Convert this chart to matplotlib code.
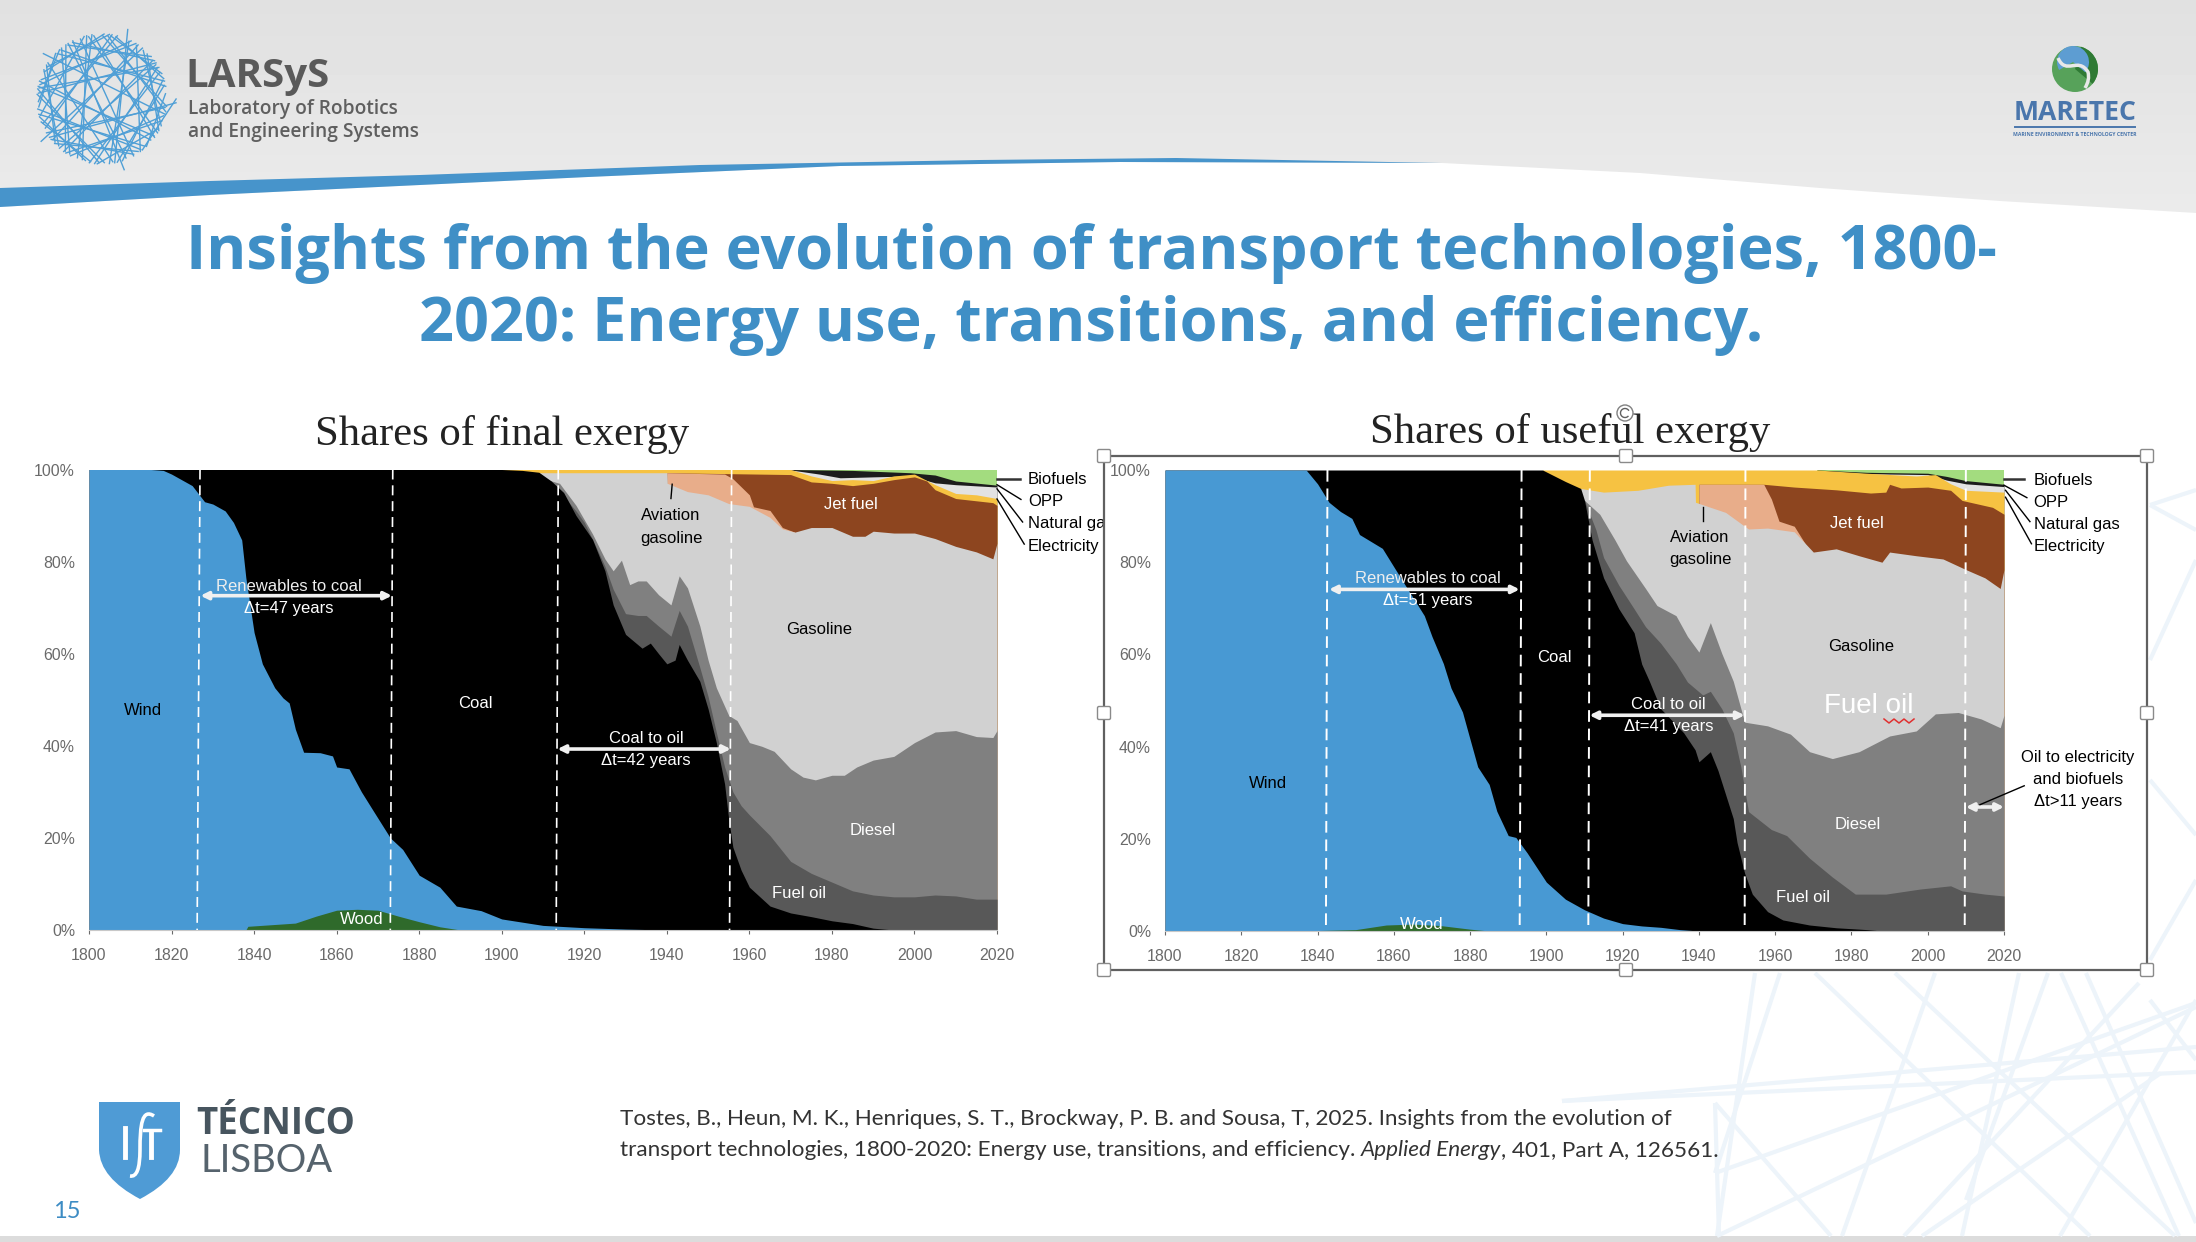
import numpy as np
import matplotlib
matplotlib.use('Agg')
import matplotlib.pyplot as plt
from matplotlib.patches import Arc, Circle, Polygon, PathPatch, Rectangle, Wedge, FancyBboxPatch
from matplotlib.path import Path

W, H = 2196, 1242

# colours of the layers, painted top layer first, each from 0 up to its own top
colors = {'biofuels': '#a3dc7f', 'opp': '#1c1c1c', 'natgas': '#e2e2e2', 'elec': '#f6c242',
          'jet': '#8d451f', 'avgas': '#e8ad8a', 'gasoline': '#d1d1d1', 'diesel': '#808080',
          'fueloil': '#585858', 'coal': '#000000', 'wind': '#4899d3', 'wood': '#2f6a2b'}

xticks = list(range(1800, 2021, 20))
yticks = [0, 20, 40, 60, 80, 100]

# ---- final exergy, cumulative share at the top of each layer
f_bio_y = [1970, 2020]
f_bio_v = [100, 100]
f_opp_y = [1970, 1985, 1999, 2005, 2010, 2020]
f_opp_v = [100, 99.8, 99.3, 98.8, 97.5, 96.6]
f_gas_y = [1970, 1977, 1982, 1990, 1999, 2005, 2010, 2020]
f_gas_v = [99.9, 99.0, 98.2, 98.4, 98.6, 97.1, 96.7, 96.2]
f_ele_y = [1895, 1970, 1975, 1980, 1985, 1990, 1995, 2000, 2005, 2010, 2015, 2020]
f_ele_v = [100, 100, 98.6, 97.6, 97.8, 97.6, 98.6, 99.0, 96.7, 94.8, 94.5, 93.7]
f_jet_y = [1940, 1970, 1975, 1980, 1985, 1990, 1995, 2000, 2003, 2005, 2010, 2015, 2019, 2020]
f_jet_v = [99.3, 98.9, 97.3, 97.0, 96.5, 97.0, 97.8, 98.4, 97.5, 95.6, 93.7, 93.2, 92.8, 92.2]
f_avg_y = [1940, 1954, 1956, 1960, 1961, 1965, 1968, 1971]
f_avg_v = [99.3, 99.0, 98.0, 94.5, 91.9, 91.1, 87.4, 86.4]
f_ben_y = [1909, 1940, 1940.1, 1945, 1950, 1955, 1960, 1965, 1968, 1971, 1975, 1980, 1985, 1988,
           1990, 1995, 2000, 2005, 2010, 2015, 2019, 2020]
f_ben_v = [99.3, 99.3, 97.0, 95.2, 94.5, 92.6, 92.0, 89.6, 87.1, 86.4, 87.4, 87.4, 85.5, 85.5,
           86.6, 86.2, 86.2, 85.0, 83.3, 82.1, 80.6, 84.0]
f_die_y = [1909, 1911, 1914, 1918, 1922, 1925, 1927, 1929, 1931, 1933, 1935, 1938, 1941, 1943, 1945,
           1948, 1950, 1952, 1955, 1957, 1960, 1963, 1966, 1970, 1973, 1976, 1980, 1983, 1986, 1990,
           1995, 2000, 2005, 2010, 2015, 2019, 2020]
f_die_v = [99.3, 97.8, 97.0, 92.2, 86.0, 80.6, 78.0, 80.3, 75.0, 75.8, 75.8, 72.8, 70.6, 76.9, 74.3,
           66.0, 58.6, 52.6, 46.6, 45.5, 40.7, 39.9, 38.8, 35.0, 33.2, 32.6, 33.6, 33.6, 35.4, 36.9,
           37.7, 40.7, 43.0, 43.3, 42.0, 41.8, 43.3]
f_foi_y = [1911, 1913, 1918, 1920, 1922, 1925, 1927, 1930, 1933, 1935, 1938, 1941, 1943, 1945, 1948,
           1950, 1952, 1954, 1956, 1958, 1960, 1965, 1970, 1975, 1980, 1985, 1990, 1995, 2000, 2005,
           2010, 2015, 2020]
f_foi_v = [97.8, 96.3, 91.0, 88.5, 84.8, 79.0, 74.0, 68.7, 68.3, 68.3, 66.0, 63.8, 69.4, 66.0, 57.0,
           50.7, 42.9, 35.4, 30.0, 27.0, 25.0, 20.5, 14.9, 12.3, 10.4, 8.5, 7.6, 7.2, 7.2, 7.6,
           7.4, 6.7, 6.7]
f_coa_y = [1800, 1900, 1905, 1909, 1912, 1915, 1918, 1922, 1925, 1927, 1930, 1932, 1934, 1936, 1938,
           1940, 1942, 1943, 1945, 1948, 1950, 1952, 1954, 1955, 1956, 1958, 1960, 1965, 1970, 1975,
           1980, 1985, 1990, 1995, 2020]
f_coa_v = [100, 100, 99.8, 99.4, 97.5, 95.0, 90.0, 84.8, 78.0, 70.6, 64.2, 62.7, 61.2, 62.3, 60.0,
           57.8, 58.6, 62.0, 58.6, 54.0, 48.0, 40.7, 31.7, 24.0, 18.0, 13.0, 9.3, 5.2, 3.7, 2.9,
           2.0, 1.4, 0.4, 0, 0]
f_win_y = [1800, 1815, 1818, 1820, 1825, 1828, 1830, 1833, 1835, 1837, 1838, 1840, 1842, 1845, 1847,
           1848.5, 1850, 1852, 1856, 1859, 1860, 1863, 1866, 1869, 1873, 1876, 1880, 1885, 1889, 1895,
           1900, 1905, 1910, 1920, 1930, 1940]
f_win_v = [100, 100, 99.8, 99.0, 96.5, 93.0, 92.5, 91.0, 88.5, 84.7, 76.5, 64.6, 57.8, 52.6, 50.4,
           49.3, 43.6, 38.6, 38.5, 37.8, 35.4, 35.0, 30.0, 25.7, 20.0, 17.5, 11.9, 9.3, 5.2, 4.2,
           2.4, 1.7, 1.0, 0.5, 0.2, 0]
f_woo_y = [1838, 1838.5, 1850, 1855, 1860, 1865, 1870, 1875, 1880, 1885, 1890]
f_woo_v = [0, 0.8, 1.5, 3.0, 4.3, 4.5, 4.3, 3.0, 1.8, 0.7, 0]

# ---- useful exergy
u_bio_y = [1971, 2020]
u_bio_v = [100, 100]
u_opp_y = [1971, 1984, 2000, 2005, 2010, 2020]
u_opp_v = [100, 99.5, 99.3, 98.6, 97.7, 96.9]
u_gas_y = [1971, 1984, 2000, 2005, 2010, 2020]
u_gas_v = [99.8, 99.2, 99.0, 97.8, 97.0, 96.4]
u_ele_y = [1899, 1971, 1984, 1997, 2002, 2006, 2010, 2020]
u_ele_v = [100, 100, 99.3, 98.7, 99.0, 97.0, 95.6, 95.2]
u_jet_y = [1940, 1957, 1965, 1976, 1985, 1989, 1990, 1993, 2000, 2006, 2009, 2017, 2020]
u_jet_v = [96.9, 96.9, 96.3, 95.7, 95.0, 95.2, 96.9, 96.1, 96.3, 95.6, 93.4, 91.9, 90.4]
u_avg_y = [1940, 1957, 1959, 1961, 1965, 1969]
u_avg_v = [96.9, 96.9, 93.7, 88.9, 87.8, 82.5]
u_ben_y = [1909, 1915, 1924, 1932, 1939, 1939.1, 1947, 1953, 1958, 1965, 1970, 1976, 1982, 1988, 1990,
           1997, 2004, 2010, 2015, 2019, 2020]
u_ben_v = [96.0, 95.2, 95.6, 96.7, 96.9, 93.0, 90.8, 87.2, 87.4, 86.6, 82.2, 82.9, 81.4, 80.0, 82.2,
           81.4, 80.7, 78.4, 76.6, 74.3, 78.4]
u_die_y = [1910, 1914, 1918, 1921, 1926, 1929, 1934, 1937, 1940, 1943, 1946, 1949, 1952, 1958, 1964,
           1969, 1975, 1982, 1990, 1997, 2002, 2008, 2014, 2019, 2020]
u_die_v = [93.4, 90.4, 84.8, 80.3, 74.3, 70.6, 68.4, 63.9, 60.5, 66.9, 60.2, 54.2, 45.3, 44.5, 42.7,
           38.9, 37.4, 38.9, 42.3, 43.4, 47.1, 47.4, 46.0, 44.1, 46.8]
u_foi_y = [1910, 1913, 1915, 1919, 1923, 1926, 1930, 1934, 1937, 1941, 1943, 1946, 1949, 1951, 1953, 1959,
           1963, 1969, 1975, 1981, 1989, 1998, 2006, 2009, 2015, 2020]
u_foi_v = [93.4, 87.0, 81.0, 75.0, 69.9, 66.0, 62.4, 58.0, 54.0, 51.2, 52.0, 48.2, 43.0, 35.6, 25.9, 22.0,
           20.7, 15.8, 11.7, 8.0, 8.0, 9.1, 9.8, 8.7, 8.0, 7.6]
u_coa_y = [1800, 1899, 1905, 1909, 1910, 1912, 1915, 1919, 1923, 1925, 1927, 1930, 1936, 1939, 1940,
           1943, 1945, 1947, 1949, 1950, 1952, 1954, 1958, 1962, 1969, 1976, 1984, 1988, 2020]
u_coa_v = [100, 100, 97.5, 96.0, 93.4, 84.8, 76.6, 69.9, 64.7, 57.9, 54.2, 48.2, 43.0, 39.3, 36.7,
           38.9, 34.8, 29.6, 24.4, 19.2, 12.5, 8.0, 4.2, 2.4, 1.3, 0.7, 0.3, 0, 0]
u_win_y = [1800, 1837, 1840, 1843, 1846, 1849, 1851, 1853, 1857, 1860, 1863, 1868, 1870, 1873, 1875,
           1878, 1882, 1885, 1887, 1890, 1892, 1895, 1900, 1905, 1910, 1915, 1920, 1925, 1930, 1935,
           1940]
u_win_v = [100, 100, 97.0, 93.0, 91.0, 89.5, 86.0, 85.0, 83.0, 79.0, 75.0, 68.4, 63.9, 58.0, 52.7,
           47.5, 35.6, 31.8, 26.0, 20.7, 20.3, 16.9, 10.6, 6.9, 4.6, 2.8, 1.6, 1.1, 0.8, 0.3,
           0]
u_woo_y = [1835, 1850, 1858, 1865, 1872, 1880, 1885]
u_woo_v = [0, 0.3, 1.3, 1.5, 1.2, 0.4, 0]

fig = plt.figure(figsize=(W / 100, H / 100), dpi=100, facecolor='white')


def px_axes(x0, y0, x1, y1, z):
    ax = fig.add_axes([x0 / W, 1 - y1 / H, (x1 - x0) / W, (y1 - y0) / H], zorder=z)
    return ax


# ---- slide background, in pixel coordinates
bg = px_axes(0, 0, W, H, 0)
bg.imshow(np.linspace(0.88, 0.925, 64).reshape(-1, 1), cmap='gray', vmin=0, vmax=1,
          extent=[0, W, 230, 0], aspect='auto')
bg.set_xlim(0, W)
bg.set_ylim(H, 0)
bg.axis('off')
white_top = [(0, 207), (210, 195), (420, 185), (588, 177), (840, 166), (1120, 162), (1442, 163),
             (1640, 173), (1820, 188), (2000, 201), (2196, 213)]
bg.add_patch(Polygon(white_top + [(W, H), (0, H)], fc='white', ec='none'))
blue_top = [(0, 188), (210, 181), (420, 175), (700, 165), (980, 160), (1176, 158), (1442, 163)]
blue_bot = [(1120, 162), (840, 166), (588, 177), (420, 185), (210, 195), (0, 207)]
bg.add_patch(Polygon(blue_top + blue_bot, fc='#4794cb', ec='none'))
bg.add_patch(Rectangle((0, 1236), W, 6, fc='#dcdcdc', ec='none'))

tower = [((1562, 1101), (2196, 1047)), ((1562, 1101), (2196, 1072)), ((1755, 973), (1717, 1236)),
         ((1780, 973), (1715, 1173)), ((1715, 1103), (1831, 1236)), ((1715, 1173), (2196, 1003)),
         ((1717, 1236), (2196, 1007)), ((1815, 973), (2090, 1236)), ((1895, 973), (2175, 1236)),
         ((1935, 973), (1842, 1236)), ((2019, 973), (1962, 1236)), ((2048, 973), (1966, 1200)),
         ((2139, 983), (1904, 1236)), ((2061, 973), (2179, 1236)), ((2086, 973), (2196, 1223)),
         ((2161, 1073), (1922, 1236)), ((2196, 1000), (2060, 1236)), ((1715, 1103), (1719, 1236)),
         ((2150, 505), (2196, 490)), ((2150, 505), (2196, 530)), ((2150, 780), (2196, 835)),
         ((2150, 960), (2196, 880)), ((2150, 660), (2196, 560)), ((2150, 1000), (2196, 1060))]
for a, b in tower:
    bg.plot([a[0], b[0]], [a[1], b[1]], color='#edf4fa', lw=3.0, solid_capstyle='butt', zorder=1)

# white box behind the selected picture
bg.add_patch(Rectangle((1104, 456), 1043, 516, fc='white', ec='none', zorder=2))


def bgtext(x, y, s, **kw):
    kw.setdefault('va', 'center')
    return bg.text(x, y, s, zorder=6, **kw)


# LARSyS logo, chords of a circle at fixed steps
for i in range(62):
    a = i * 2.39996
    b = a + 0.9 + (i * 37 % 17) * 0.13
    r = 1.14 if i % 11 == 0 else 0.98
    bg.plot([102 + r * 65 * np.cos(a), 102 + 65 * np.cos(b)], [99 + r * 65 * np.sin(a), 99 + 65 * np.sin(b)],
            color='#4f9fd6', lw=1.0, zorder=3)
bgtext(185, 76, 'LARSyS', fontsize=29, family='Open Sans', weight='bold', color='#5a5a5a')
bgtext(188, 109, 'Laboratory of Robotics', fontsize=13.8, family='Open Sans', weight='semibold', color='#5f5f5f')
bgtext(188, 132, 'and Engineering Systems', fontsize=13.8, family='Open Sans', weight='semibold', color='#5f5f5f')

# MARETEC logo
bg.add_patch(Circle((2075, 69), 23, fc='#57a25a', ec='none', zorder=3))
bg.add_patch(Wedge((2075, 69), 23, -75, 40, fc='#2f7a34', ec='none', zorder=3))
bg.add_patch(Wedge((2073, 62), 16, 150, 400, fc='#5d9dd2', ec='none', zorder=3))
bg.add_patch(PathPatch(Path([(2058, 58), (2066, 76), (2078, 56), (2088, 72), (2090, 80), (2085, 88)],
                            [Path.MOVETO, Path.CURVE4, Path.CURVE4, Path.CURVE4, Path.CURVE3, Path.CURVE3]),
                       fc='none', ec='#e8e8e8', lw=2.5, zorder=4))
bgtext(2075, 113, 'MARETEC', fontsize=19.2, family='Open Sans', weight='bold', color='#4a76ac', ha='center')
bg.plot([2015, 2135], [127, 127], color='#4a76ac', lw=1.4, zorder=3)
bgtext(2075, 134.5, 'MARINE ENVIRONMENT & TECHNOLOGY CENTER', fontsize=3.7, family='Open Sans', weight='bold',
       color='#4a76ac', ha='center')

# title
bgtext(1091, 253, 'Insights from the evolution of transport technologies, 1800-', fontsize=44,
       family='Open Sans', weight='bold', color='#3f8fc6', ha='center')
bgtext(1091, 325, '2020: Energy use, transitions, and efficiency.', fontsize=44,
       family='Open Sans', weight='bold', color='#3f8fc6', ha='center')

# Tecnico logo
shield = Path([(99, 1102), (180, 1102), (180, 1150), (180, 1178), (140, 1199), (100, 1178), (99, 1150), (99, 1102)],
              [Path.MOVETO, Path.LINETO, Path.LINETO, Path.CURVE3, Path.CURVE3, Path.CURVE3, Path.CURVE3, Path.LINETO])
bg.add_patch(PathPatch(shield, fc='#4f9bd5', ec='none', zorder=3))
bg.plot([125, 125], [1128, 1157], color='white', lw=3.5, zorder=4)
bg.plot([151, 151], [1131, 1157], color='white', lw=3.5, zorder=4)
bg.plot([144, 160], [1130, 1130], color='white', lw=2.5, zorder=4)
bg.add_patch(PathPatch(Path([(154, 1116), (142, 1108), (140, 1125), (140, 1150), (140, 1178), (130, 1176)],
                            [Path.MOVETO, Path.CURVE4, Path.CURVE4, Path.CURVE4, Path.CURVE3, Path.CURVE3]),
                       fc='none', ec='white', lw=2.6, zorder=4))
bgtext(196, 1124, 'TÉCNICO', fontsize=26.5, family='Open Sans', weight='bold', color='#47555f')
bgtext(201, 1161, 'LISBOA', fontsize=27.5, family='Lato', color='#56636d')
bgtext(53, 1211, '15', fontsize=17, family='Lato', color='#3d8cc4')

# citation, roman and italic parts set one after the other
cite_col = '#333333'
cite_fs = 16.2
bgtext(620, 1119, 'Tostes, B., Heun, M. K., Henriques, S. T., Brockway, P. B. and Sousa, T, 2025. Insights from the evolution of',
       fontsize=cite_fs, family='Lato', color=cite_col)
t1 = bgtext(620, 1150, 'transport technologies, 1800-2020: Energy use, transitions, and efficiency. ',
            fontsize=cite_fs, family='Lato', color=cite_col)
rend = fig.canvas.get_renderer()
x1 = t1.get_window_extent(rend).x1
t2 = bgtext(x1, 1150, 'Applied Energy', fontsize=cite_fs, family='Lato', style='italic', color=cite_col)
x2 = t2.get_window_extent(rend).x1
bgtext(x2, 1150, ', 401, Part A, 126561.', fontsize=cite_fs, family='Lato', color=cite_col)


def stacked(ax, layers):
    for name, yrs, tops in layers:
        ax.fill_between(yrs, tops, 0, color=colors[name], lw=0)
    ax.set_xlim(1800, 2020)
    ax.set_ylim(0, 100)
    ax.set_xticks(xticks)
    ax.set_yticks(yticks)
    ax.set_yticklabels(['%d%%' % v for v in yticks])
    ax.tick_params(axis='both', labelsize=11.4, colors='#6a6a6a', length=3, width=0.8, pad=7, direction='out')
    ax.tick_params(axis='x', pad=10)
    ax.tick_params(axis='y', length=0, pad=10)
    for lab in ax.get_xticklabels() + ax.get_yticklabels():
        lab.set_family('Liberation Sans')
    for s in ['top', 'right', 'left']:
        ax.spines[s].set_visible(False)
    ax.spines['bottom'].set_color('#c8c8c8')
    ax.patch.set_alpha(0)


def note(ax, x, y, s, col='black', fs=12, **kw):
    ax.text(x, y, s, color=col, fontsize=fs, family='Liberation Sans', ha=kw.pop('ha', 'center'), va='center',
            clip_on=False, **kw)


def span(ax, x0, x1, y):
    ax.annotate('', xy=(x0, y), xytext=(x1, y),
                arrowprops=dict(arrowstyle='<|-|>', color='#f0f0f0', lw=2.6, shrinkA=0, shrinkB=0,
                                mutation_scale=11))


def leader(ax, x0, y0, x1, y1, lw=1.0, col='black'):
    ax.plot([x0, x1], [y0, y1], color=col, lw=lw, clip_on=False, zorder=5)


def dashes(ax, tops, bots, lw=1.3):
    for a, b in zip(tops, bots):
        ax.plot([a, b], [100, 0], color='white', lw=lw, ls=(0, (6, 3.5)), zorder=4)


# ---- left chart
ax1 = px_axes(89, 469.5, 997, 930, 1)
stacked(ax1, [('biofuels', f_bio_y, f_bio_v), ('opp', f_opp_y, f_opp_v), ('natgas', f_gas_y, f_gas_v),
              ('elec', f_ele_y, f_ele_v), ('jet', f_jet_y, f_jet_v), ('avgas', f_avg_y, f_avg_v),
              ('gasoline', f_ben_y, f_ben_v), ('diesel', f_die_y, f_die_v), ('fueloil', f_foi_y, f_foi_v),
              ('coal', f_coa_y, f_coa_v), ('wind', f_win_y, f_win_v), ('wood', f_woo_y, f_woo_v)])
dashes(ax1, [1826.9, 1873.6, 1913.7, 1955.7], [1826.2, 1873.0, 1913.2, 1955.2], lw=1.2)
span(ax1, 1827, 1873.4, 72.6)
span(ax1, 1913.5, 1955.5, 39.3)
note(ax1, 1813, 47.6, 'Wind')
note(ax1, 1893.5, 49.2, 'Coal', 'white')
note(ax1, 1866, 2.2, 'Wood', 'white')
note(ax1, 1848.5, 74.7, 'Renewables to coal', '#eeeeee')
note(ax1, 1848.5, 69.8, 'Δt=47 years', 'white')
note(ax1, 1935, 41.6, 'Coal to oil', 'white')
note(ax1, 1935, 36.7, 'Δt=42 years', 'white')
note(ax1, 1977, 65.3, 'Gasoline')
note(ax1, 1990, 21.5, 'Diesel', 'white')
note(ax1, 1972, 7.9, 'Fuel oil', 'white')
note(ax1, 1984.5, 92.4, 'Jet fuel', 'white')
note(ax1, 1941, 90.1, 'Aviation')
note(ax1, 1941, 85.0, 'gasoline')
leader(ax1, 1941.3, 96.8, 1941, 93.7)
note(ax1, 2027.5, 97.8, 'Biofuels', ha='left')
note(ax1, 2027.5, 93.0, 'OPP', ha='left')
note(ax1, 2027.5, 88.2, 'Natural gas', ha='left')
note(ax1, 2027.5, 83.2, 'Electricity', ha='left')
leader(ax1, 2020, 98, 2025.5, 98, lw=1.8, col='#333333')
leader(ax1, 2020, 96.7, 2025.8, 93.5)
leader(ax1, 2020, 95.8, 2026.2, 88.6)
leader(ax1, 2020, 93.6, 2026.6, 83.8)

# picture frame of the right chart hides what sticks out of the left one
fr = px_axes(1104, 456, 2147, 972, 2)
fr.axis('off')
fr.add_patch(Rectangle((0, 0), 1, 1, transform=fr.transAxes, fc='white', ec='none'))

# ---- right chart
ax2 = px_axes(1165, 470, 2004, 931, 3)
stacked(ax2, [('biofuels', u_bio_y, u_bio_v), ('opp', u_opp_y, u_opp_v), ('natgas', u_gas_y, u_gas_v),
              ('elec', u_ele_y, u_ele_v), ('jet', u_jet_y, u_jet_v), ('avgas', u_avg_y, u_avg_v),
              ('gasoline', u_ben_y, u_ben_v), ('diesel', u_die_y, u_die_v), ('fueloil', u_foi_y, u_foi_v),
              ('coal', u_coa_y, u_coa_v), ('wind', u_win_y, u_win_v), ('wood', u_woo_y, u_woo_v)])
dashes(ax2, [1842.6, 1893.5, 1911.4, 1952.2, 2010], [1842.2, 1893.0, 1911.0, 1952.0, 2009.7], lw=1.4)
span(ax2, 1843, 1893, 74.1)
span(ax2, 1911.3, 1952, 46.8)
span(ax2, 2010, 2020, 26.9)
note(ax2, 1827, 32, 'Wind')
note(ax2, 1902, 59.3, 'Coal', 'white')
note(ax2, 1867.3, 1.5, 'Wood', 'white')
note(ax2, 1869, 76.4, 'Renewables to coal', '#eeeeee')
note(ax2, 1869, 71.6, 'Δt=51 years', 'white')
note(ax2, 1932, 49.2, 'Coal to oil', 'white')
note(ax2, 1932, 44.4, 'Δt=41 years', 'white')
note(ax2, 1982.5, 61.8, 'Gasoline')
note(ax2, 1984.5, 48.8, 'Fuel oil', 'white', fs=20)
note(ax2, 1981.7, 23.2, 'Diesel', 'white')
note(ax2, 1967.3, 7.2, 'Fuel oil', 'white')
note(ax2, 1981.5, 88.5, 'Jet fuel', 'white')
note(ax2, 1940.3, 85.3, 'Aviation')
note(ax2, 1940.3, 80.5, 'gasoline')
leader(ax2, 1941.2, 91.9, 1941.2, 88.9)
note(ax2, 2027.8, 97.8, 'Biofuels', ha='left')
note(ax2, 2027.8, 93.0, 'OPP', ha='left')
note(ax2, 2027.8, 88.2, 'Natural gas', ha='left')
note(ax2, 2027.8, 83.3, 'Electricity', ha='left')
leader(ax2, 2020, 98, 2025.3, 98, lw=1.8, col='#333333')
leader(ax2, 2020, 96.7, 2026, 94)
leader(ax2, 2020.4, 95.6, 2026.8, 88.8)
leader(ax2, 2020.4, 94.1, 2027.2, 84)
note(ax2, 2039.4, 37.7, 'Oil to electricity')
note(ax2, 2039.4, 32.8, 'and biofuels')
note(ax2, 2039.4, 28.0, 'Δt>11 years')
leader(ax2, 2013.7, 27.4, 2025.3, 31.5)

# ---- top layer: chart titles, selection frame and handles
fg = px_axes(0, 0, W, H, 10)
fg.set_xlim(0, W)
fg.set_ylim(H, 0)
fg.axis('off')
fg.text(502, 434, 'Shares of final exergy', fontsize=30.7, family='Liberation Serif', color='#222222',
        ha='center', va='center')
fg.text(1570, 433, 'Shares of useful exergy', fontsize=30.7, family='Liberation Serif', color='#222222',
        ha='center', va='center')
fg.add_patch(Rectangle((1104, 456), 1043, 514, fc='none', ec='#606060', lw=1.6))
fg.add_patch(Circle((1625, 413), 8, fc='white', ec='#808080', lw=1.0))
fg.add_patch(Arc((1625, 413), 9, 9, theta1=40, theta2=330, ec='#606060', lw=1.0))
for hx in [1104, 1626, 2147]:
    for hy in [456, 713, 970]:
        if hx == 1626 and hy == 713:
            continue
        fg.add_patch(FancyBboxPatch((hx - 6.5, hy - 6.5), 13, 13, boxstyle='round,pad=0,rounding_size=1.5',
                                    fc='white', ec='#8a8a8a', lw=1.0))
fg.plot([1884, 1889, 1894, 1899, 1904, 1909, 1914], [719, 723, 719, 723, 719, 723, 719], color='#e03030', lw=1.1)

fig.savefig('out.png', dpi=100)
